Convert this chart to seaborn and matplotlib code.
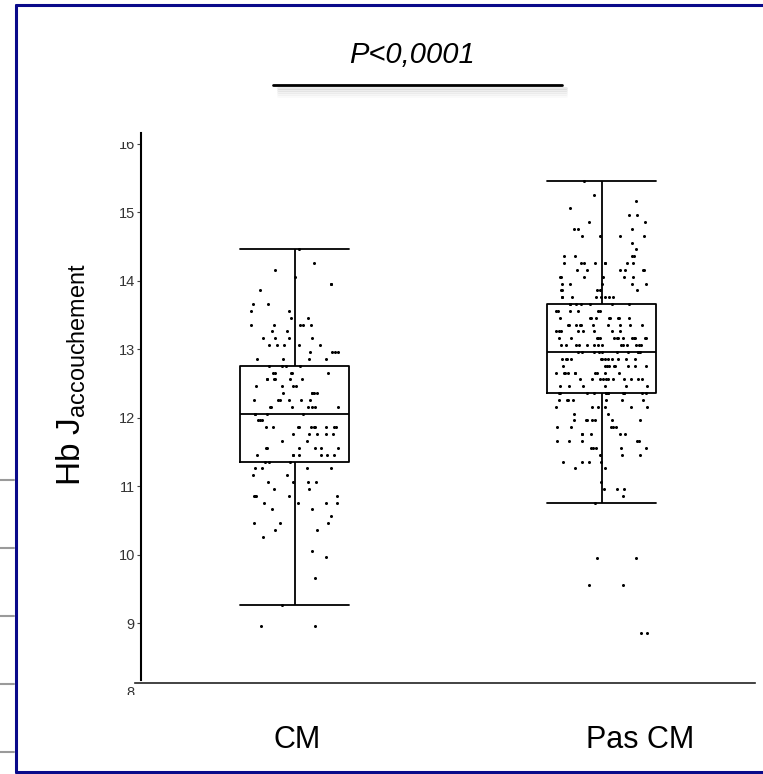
import numpy as np
import pandas as pd
import seaborn as sns
import matplotlib
matplotlib.use("Agg")
import matplotlib.pyplot as plt
from matplotlib.lines import Line2D
from matplotlib.transforms import Bbox, TransformedBbox, ScaledTranslation
from matplotlib import font_manager

# ---------------- data ----------------
groups = ["CM", "Pas CM"]

cm_levels = [14.46, 14.26, 14.16, 14.06, 13.96, 13.86, 13.66, 13.56, 13.46, 13.36,
             13.26, 13.16, 13.06, 12.96, 12.86, 12.76, 12.66, 12.56, 12.46, 12.36,
             12.26, 12.16, 12.06, 11.96, 11.86, 11.76, 11.66, 11.56, 11.46, 11.36,
             11.26, 11.16, 11.06, 10.96, 10.86, 10.76, 10.66, 10.56, 10.46, 10.36,
             10.26, 10.06, 9.96, 9.66, 9.27, 8.96]
cm_counts = [1, 1, 1, 1, 2, 1, 2, 2, 2, 5,
             2, 4, 5, 4, 4, 4, 5, 6, 4, 5,
             6, 7, 4, 3, 10, 5, 2, 6, 7, 3,
             4, 2, 4, 2, 5, 4, 2, 1, 3, 2,
             1, 1, 1, 1, 1, 2]

pas_levels = [15.46, 15.26, 15.16, 15.06, 14.96, 14.86, 14.76, 14.66, 14.56, 14.46,
              14.36, 14.26, 14.16, 14.06, 13.96, 13.86, 13.76, 13.66, 13.56, 13.46,
              13.36, 13.26, 13.16, 13.06, 12.96, 12.86, 12.76, 12.66, 12.56, 12.46,
              12.36, 12.26, 12.16, 12.06, 11.96, 11.86, 11.76, 11.66, 11.56, 11.46,
              11.36, 11.26, 11.06, 10.96, 10.86, 10.76, 9.95, 9.55, 8.85]
pas_counts = [1, 1, 1, 1, 2, 2, 3, 4, 1, 1,
              4, 8, 6, 6, 5, 5, 8, 7, 6, 9,
              10, 8, 14, 14, 10, 12, 9, 10, 11, 6,
              13, 7, 6, 2, 7, 5, 5, 5, 5, 3,
              4, 2, 1, 3, 1, 1, 2, 2, 2]

y_ticks = [8, 9, 10, 11, 12, 13, 14, 15, 16]
title_text = "P<0,0001"
ylabel_text = r"Hb J$_{\mathregular{accouchement}}$"

# ---------------- build table ----------------
df = pd.DataFrame({
    "groupe": [groups[0]] * sum(cm_counts) + [groups[1]] * sum(pas_counts),
    "hb": list(np.repeat(cm_levels, cm_counts)) + list(np.repeat(pas_levels, pas_counts)),
})

# ---------------- style ----------------
sns.set_style("white")
available = {f.name for f in font_manager.fontManager.ttflist}
base_font = "Liberation Sans"
narrow_font = "Liberation Sans Narrow" if "Liberation Sans Narrow" in available else base_font
plt.rcParams["font.family"] = [base_font, "DejaVu Sans"]
plt.rcParams["text.color"] = "black"
plt.rcParams["mathtext.fontset"] = "custom"
plt.rcParams["mathtext.rm"] = base_font
plt.rcParams["mathtext.it"] = base_font + ":italic"

W, H = 763, 774
fig = plt.figure(figsize=(W / 100, H / 100), dpi=100)
ax = fig.add_axes([141 / W, (H - 701.8) / H, 614 / W, 568.8 / H])

sns.boxplot(data=df, x="groupe", y="hb", order=groups, ax=ax,
            width=0.354, fill=False, color="black", linewidth=1.3,
            whis=1.5, showfliers=False, capwidths=0.354, zorder=2)
np.random.seed(3)
sns.stripplot(data=df, x="groupe", y="hb", order=groups, ax=ax,
              jitter=0.15, size=2.2, color="black", linewidth=0, zorder=3)

ax.set_xlim(-0.5, 1.5)
ax.set_ylim(7.85, 16.16)
ax.set_yticks(y_ticks)
ax.set_yticklabels([str(t) for t in y_ticks])
ax.set_xlabel("")
ax.set_ylabel(ylabel_text, fontsize=24, color="black")
ax.yaxis.set_label_coords(-0.087, 0.576)

for s in ("top", "right"):
    ax.spines[s].set_visible(False)
ax.spines["left"].set_bounds(8.17, 16.16)
ax.spines["left"].set_linewidth(1.5)
ax.spines["left"].set_color("black")
ax.spines["bottom"].set_position(("data", 8.12))
ax.spines["bottom"].set_bounds(-0.52, 1.5)
ax.spines["bottom"].set_linewidth(1.2)
ax.spines["bottom"].set_color("#222222")

ax.tick_params(axis="x", length=0, pad=30, labelsize=22, labelcolor="black")
ax.tick_params(axis="y", left=True, length=3, width=0.8, color="#444444",
               labelsize=10.5, labelcolor="#333333", pad=1.5)

# category labels: small horizontal offsets as in the reference
for lbl, dx in zip(ax.get_xticklabels(), [3, 39]):
    lbl.set_fontfamily([narrow_font, base_font])
    lbl.set_transform(lbl.get_transform() + ScaledTranslation(dx / 100, 0, fig.dpi_scale_trans))

# hide tick mark of the lowest tick (below spine) and clip partial labels
ax.yaxis.get_major_ticks()[0].tick1line.set_visible(False)
clip = TransformedBbox(Bbox.from_extents(0, (H - 695) / H, 1, (H - 142) / H), fig.transFigure)
for lbl in ax.get_yticklabels():
    lbl.set_clip_box(clip)
    lbl.set_clip_on(True)

# ---------------- title and significance bar ----------------
fig.text(412 / W, 1 - 55 / H, title_text, ha="center", va="center", color="black",
         fontsize=21, style="italic", family=[narrow_font, base_font])
for k, a in enumerate([0.18, 0.14, 0.10, 0.07, 0.04]):
    fig.add_artist(Line2D([278 / W, 566 / W], [1 - (88 + 2 * k) / H] * 2,
                          transform=fig.transFigure, color="grey", lw=2, alpha=a))
fig.add_artist(Line2D([273 / W, 562 / W], [1 - 85 / H] * 2,
                      transform=fig.transFigure, color="black", lw=2))

# ---------------- frame decorations ----------------
navy = "#0a0a8a"
fig.add_artist(Line2D([16 / W, 16 / W], [1 - 5 / H, 1 - 772 / H],
                      transform=fig.transFigure, color=navy, lw=2.2))
fig.add_artist(Line2D([16 / W, 1], [1 - 5 / H] * 2,
                      transform=fig.transFigure, color=navy, lw=2.2))
fig.add_artist(Line2D([16 / W, 1], [1 - 772 / H] * 2,
                      transform=fig.transFigure, color=navy, lw=2.2))
for yy in [480, 548, 616, 684, 752]:
    fig.add_artist(Line2D([0, 14 / W], [1 - yy / H] * 2,
                          transform=fig.transFigure, color="#9a9a9a", lw=1.5))

fig.savefig("out.png", dpi=100)
